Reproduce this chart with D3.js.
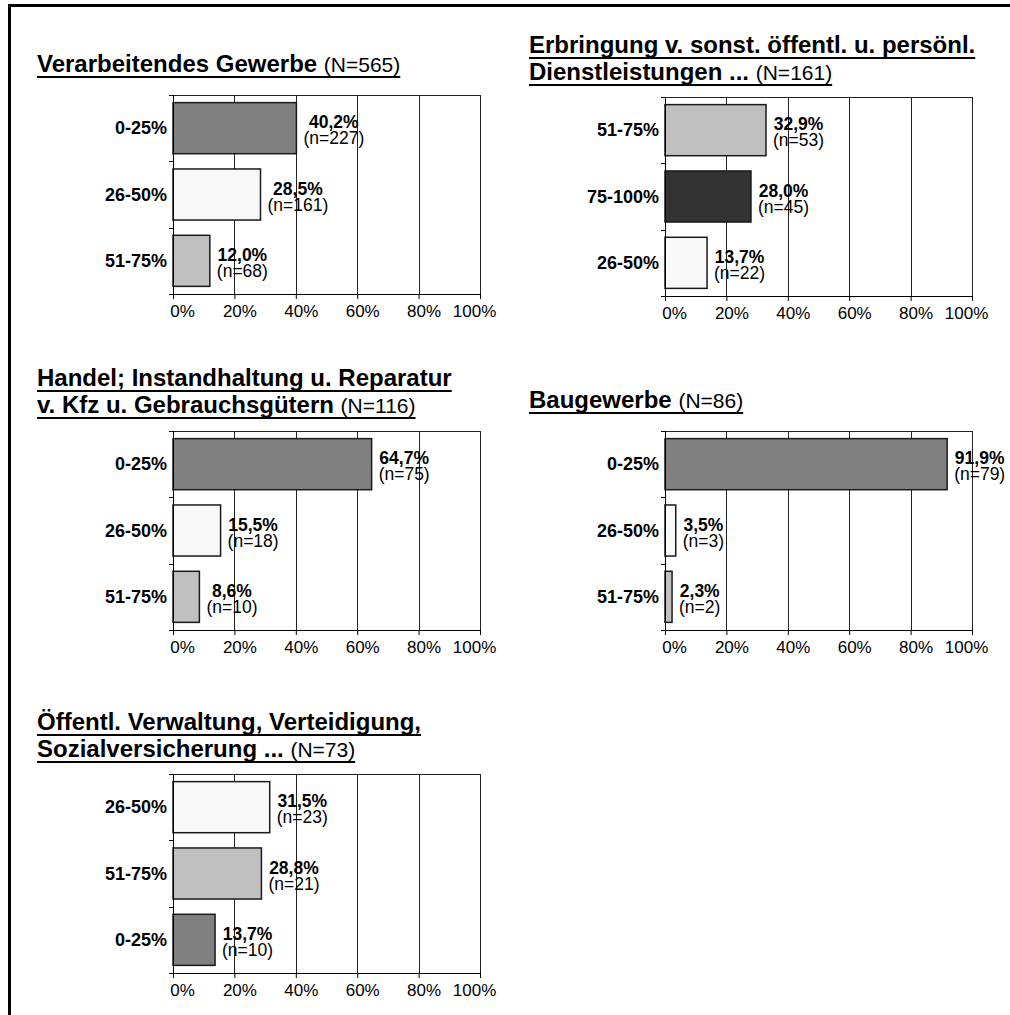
<!DOCTYPE html>
<html>
<head>
<meta charset="utf-8">
<script src="https://cdn.jsdelivr.net/npm/d3@7"></script>
<style>
  body { margin: 0; background: #fff; }
  svg { display: block; font-family: "Liberation Sans", Arial, sans-serif; }
</style>
</head>
<body>
<script>
// values, one entry per panel
var titleLines = [
  ["Verarbeitendes Gewerbe"],
  ["Erbringung v. sonst. öffentl. u. persönl.", "Dienstleistungen ..."],
  ["Handel; Instandhaltung u. Reparatur", "v. Kfz u. Gebrauchsgütern"],
  ["Baugewerbe"],
  ["Öffentl. Verwaltung, Verteidigung,", "Sozialversicherung ..."]
];
var totals = [565, 161, 116, 86, 73];
var categories = [
  ["0-25%", "26-50%", "51-75%"],
  ["51-75%", "75-100%", "26-50%"],
  ["0-25%", "26-50%", "51-75%"],
  ["0-25%", "26-50%", "51-75%"],
  ["26-50%", "51-75%", "0-25%"]
];
var percents = [
  [40.2, 28.5, 12.0],
  [32.9, 28.0, 13.7],
  [64.7, 15.5, 8.6],
  [91.9, 3.5, 2.3],
  [31.5, 28.8, 13.7]
];
var counts = [
  [227, 161, 68],
  [53, 45, 22],
  [75, 18, 10],
  [79, 3, 2],
  [23, 21, 10]
];
var xTicks = [0, 20, 40, 60, 80, 100];

// where each panel sits on the page
var layout = [
  {px: 173, py: 95,  tx: 37,  ty: 72},
  {px: 665, py: 97,  tx: 529, ty: 53},
  {px: 173, py: 431, tx: 37,  ty: 386},
  {px: 665, py: 431, tx: 529, ty: 408},
  {px: 173, py: 774, tx: 37,  ty: 730}
];
var plotW = 307, plotH = 199;

var fill = {"0-25%": "#808080", "26-50%": "#f8f8f8", "51-75%": "#c0c0c0", "75-100%": "#333333"};

var de = d3.formatLocale({decimal: ",", thousands: ".", grouping: [3], currency: ["", " €"]});
var pct = de.format(".1f");

var svg = d3.select("body").append("svg")
    .attr("width", 1010)
    .attr("height", 1015);

// frame: top and left edge only
svg.append("path")
   .attr("d", "M9.5,1015V5.5H1010")
   .attr("fill", "none")
   .attr("stroke", "#000")
   .attr("stroke-width", 3);

layout.forEach(function(L, i){
  var g = svg.append("g");

  // title, one text per line, underlined
  titleLines[i].forEach(function(line, k){
    var last = k == titleLines[i].length - 1;
    var t = g.append("text")
        .attr("x", L.tx)
        .attr("y", L.ty + k * 27)
        .attr("fill", "#000");
    t.append("tspan")
        .attr("font-size", 24)
        .attr("font-weight", "bold")
        .text(line + (last ? " " : ""));
    if (last) {
      t.append("tspan")
          .attr("font-size", 21)
          .text("(N=" + totals[i] + ")");
    }
    var w = t.node().getComputedTextLength();
    g.append("rect")
        .attr("x", L.tx)
        .attr("y", L.ty + k * 27 + 4)
        .attr("width", w)
        .attr("height", 2)
        .attr("fill", "#000");
  });

  var x = d3.scaleLinear().domain([0, 100]).range([L.px, L.px + plotW]);
  var y = d3.scaleBand()
      .domain(categories[i])
      .range([L.py, L.py + plotH])
      .paddingInner(0.23)
      .paddingOuter(0.115);

  // grid + plot border
  g.selectAll(".grid").data(xTicks.slice(1)).enter()
   .append("line")
   .attr("x1", function(d){ return Math.round(x(d)) + 0.5; })
   .attr("x2", function(d){ return Math.round(x(d)) + 0.5; })
   .attr("y1", L.py)
   .attr("y2", L.py + plotH)
   .attr("stroke", "#222")
   .attr("stroke-width", 1);
  g.append("line")
   .attr("x1", L.px).attr("x2", L.px + plotW)
   .attr("y1", L.py + 0.5).attr("y2", L.py + 0.5)
   .attr("stroke", "#222");

  // bars
  var rows = categories[i].map(function(c, j){
    return {cat: c, v: percents[i][j], n: counts[i][j]};
  });
  g.selectAll(".bar").data(rows).enter()
   .append("rect")
   .attr("x", x(0))
   .attr("y", function(d){ return y(d.cat); })
   .attr("width", function(d){ return x(d.v) - x(0); })
   .attr("height", y.bandwidth())
   .attr("fill", function(d){ return fill[d.cat]; })
   .attr("stroke", "#1a1a1a")
   .attr("stroke-width", 1.5);

  // left axis with ticks on band boundaries
  var half = y.step() * y.paddingInner() / 2;
  var bounds = categories[i].map(function(c){ return y(c) - half; });
  bounds[0] = L.py;
  bounds.push(L.py + plotH);
  g.append("line")
   .attr("x1", L.px + 0.5).attr("x2", L.px + 0.5)
   .attr("y1", L.py).attr("y2", L.py + plotH)
   .attr("stroke", "#000");
  g.selectAll(".ytick").data(bounds).enter()
   .append("line")
   .attr("x1", L.px - 4).attr("x2", L.px)
   .attr("y1", function(d){ return Math.round(d) + 0.5; })
   .attr("y2", function(d){ return Math.round(d) + 0.5; })
   .attr("stroke", "#000");

  g.selectAll(".cat").data(rows).enter()
   .append("text")
   .attr("x", L.px - 6)
   .attr("y", function(d){ return y(d.cat) + y.bandwidth() / 2 + 6; })
   .attr("text-anchor", "end")
   .attr("font-size", 18)
   .attr("font-weight", "bold")
   .text(function(d){ return d.cat; });

  // bottom axis
  var ax = g.append("g")
      .attr("transform", "translate(0," + (L.py + plotH) + ")")
      .call(d3.axisBottom(x).tickValues(xTicks).tickSize(5).tickSizeOuter(0)
            .tickFormat(function(d){ return d + "%"; }));
  ax.select(".domain").attr("stroke", "#000");
  ax.selectAll(".tick line").attr("stroke", "#000");
  ax.selectAll(".tick text")
    .attr("font-family", null)
    .attr("font-size", 17)
    .attr("fill", "#000")
    .attr("y", 11)
    .attr("dx", function(d, k){ return k == 0 ? 9 : (k == xTicks.length - 1 ? -6 : 5); });
  ax.attr("font-family", null).attr("font-size", null);

  // value labels
  rows.forEach(function(d){
    var cy = y(d.cat) + y.bandwidth() / 2;
    var a = g.append("text")
        .attr("y", cy)
        .attr("text-anchor", "middle")
        .attr("font-size", 17.5)
        .attr("font-weight", "bold")
        .text(pct(d.v) + "%");
    var b = g.append("text")
        .attr("y", cy + 16)
        .attr("text-anchor", "middle")
        .attr("font-size", 17.5)
        .text("(n=" + d.n + ")");
    var w = Math.max(a.node().getComputedTextLength(), b.node().getComputedTextLength());
    var cx = x(d.v) + 7 + w / 2;
    a.attr("x", cx);
    b.attr("x", cx);
  });
});
</script>
</body>
</html>
